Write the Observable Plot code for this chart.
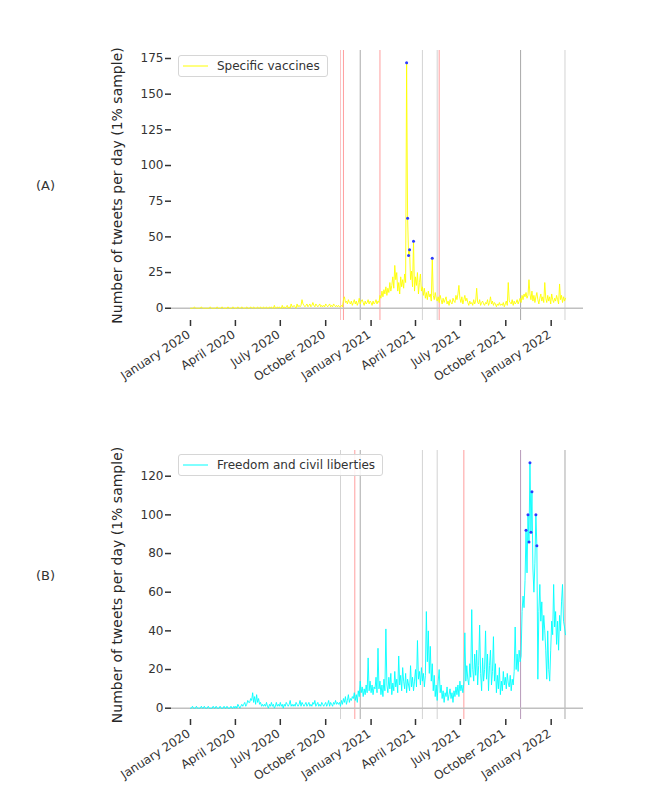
<!DOCTYPE html>
<html><head><meta charset="utf-8">
<script src="https://cdn.jsdelivr.net/npm/d3@7"></script>
<script src="https://cdn.jsdelivr.net/npm/@observablehq/plot@0.6"></script>
<style>
body{margin:0;background:#fff;font-family:"DejaVu Sans",sans-serif;}
#wrap{position:relative;width:666px;height:799px;overflow:hidden;background:#fff;}
.panel{position:absolute;left:0;}
.plabel{position:absolute;left:36px;font-size:13px;color:#333;line-height:16px;}
.legend{position:absolute;left:178px;height:22px;border:1px solid #d6d6d6;border-radius:3px;background:rgba(255,255,255,0.85);font-size:12px;color:#333;display:flex;align-items:center;box-sizing:border-box;padding-right:7px;}
.legend svg{margin-left:4px;margin-right:9px;}
</style></head><body><div id="wrap"></div>
<script>
// ---- shared ----
const seriesStart = "2020-01-01";   // first day of both daily series
const stepDays = 2;                 // values read every 2 days
const xDomain = ["2019-11-23T12:00Z", "2022-03-07T12:00Z"];
const xTicks = ["2020-01-01","2020-04-01","2020-07-01","2020-10-01","2021-01-01","2021-04-01","2021-07-01","2021-10-01","2022-01-01"];
const yLabel = "Number of tweets per day (1% sample)";

// ---- panel A : Specific vaccines ----
const vaccinesValues = [
 0,0,0,0,1,0,0,0,0,0,0,1,0,0,0,
 0,0,0,0,0,1,0,0,0,0,0,0,1,0,0,
 0,0,1,0,0,0,0,0,1,0,0,0,0,1,0,
 0,0,0,1,0,0,0,1,0,0,0,0,1,0,0,
 0,1,0,0,1,0,0,0,1,0,0,1,0,0,1,
 0,0,1,0,0,1,0,1,0,0,2,0,0,1,0,
 1,0,0,2,0,1,0,1,2,0,1,0,3,1,1,
 2,1,0,3,1,2,1,2,6,3,2,1,2,3,1,
 2,3,1,2,4,2,1,3,2,1,2,3,1,2,1,
 2,1,3,2,1,2,3,1,2,1,3,2,1,2,1,
 2,1,1,2,1,6,8,4,5,3,6,4,3,5,2,
 4,6,3,5,2,4,7,3,5,6,4,2,5,3,4,
 6,3,5,4,2,5,3,4,6,3,5,4,9,7,12,
 8,13,10,15,9,14,11,18,12,16,22,14,30,20,25,
 12,18,10,22,15,20,14,24,18,172,63,37,41,20,26,
 15,47,12,22,16,25,10,18,24,12,15,9,14,7,11,
 6,12,8,10,5,35,9,6,11,7,5,8,4,9,6,
 3,7,4,6,8,3,5,2,6,4,3,7,5,4,9,
 6,10,16,7,4,8,3,6,9,5,7,4,2,5,3,
 4,2,6,3,5,14,4,3,6,2,4,5,3,2,4,
 3,6,2,4,8,3,5,2,4,3,1,3,2,4,2,
 3,2,4,1,3,5,2,18,5,4,3,6,2,5,3,
 4,6,3,5,7,4,9,6,10,8,11,7,9,20,10,
 6,12,5,9,4,8,11,6,3,7,10,5,8,4,18,
 7,4,9,5,8,3,10,6,4,7,5,9,6,3,17,
 6,9,4,8,5,7
];
const vaccinesDotDates = ["2021-03-14","2021-03-16","2021-03-18","2021-03-20","2021-03-28","2021-05-05"];
const vaccinesDotValues = [172, 63, 37, 41, 47, 35];
const vaccinesEventDates = ["2020-10-31","2020-11-06","2020-12-10","2021-01-19","2021-04-15","2021-05-15","2021-05-19","2021-10-31","2022-01-29"];
const vaccinesEventKinds = ["Rl","R","G","R","L","L","R","G","L"];
const vaccinesYTicks = [0,25,50,75,100,125,150,175];
const vaccinesYDomain = [-8.6, 180.6];

// ---- panel B : Freedom and civil liberties ----
const freedomValues = [
 0,0,1,0,0,0,1,0,0,0,0,1,0,0,1,
 0,0,0,1,0,0,0,0,1,0,0,1,0,0,0,
 1,0,0,0,1,0,0,1,0,0,0,1,0,0,1,
 0,1,0,2,1,0,1,2,1,2,3,1,2,4,3,
 3,5,4,8,3,6,2,7,3,5,2,3,1,2,1,
 2,1,3,1,0,2,1,3,1,2,0,1,3,1,2,
 1,3,1,2,0,2,1,3,2,1,2,4,1,2,1,
 2,1,3,2,1,2,4,1,3,2,1,2,3,1,2,
 3,1,2,1,3,2,4,1,2,3,1,2,1,3,2,
 1,2,3,1,2,4,1,3,2,1,3,2,4,2,3,
 2,3,1,4,2,5,3,6,2,4,7,3,5,4,6,
 5,8,4,7,3,9,6,14,8,11,6,10,7,12,8,
 26,9,14,8,12,7,11,10,16,8,31,10,14,7,12,
 6,15,9,41,12,8,16,10,18,7,13,9,19,11,15,
 8,27,12,17,9,21,14,10,18,8,15,12,9,22,11,
 16,9,14,20,11,35,15,19,12,21,14,18,11,17,50,
 24,40,18,32,14,23,9,17,6,12,4,14,20,8,12,
 5,9,3,8,6,11,4,7,10,5,8,3,9,6,11,
 7,12,6,14,9,12,8,13,39,14,22,15,12,23,16,
 51,20,14,28,17,30,12,22,43,18,9,26,14,20,40,
 15,28,9,22,30,12,19,37,14,23,8,17,10,21,7,
 14,9,19,12,16,10,18,13,11,17,9,15,12,19,42,
 20,28,19,30,24,27,50,58,52,66,92,70,100,86,127,
 91,112,72,60,75,100,84,15,50,64,45,55,35,48,40,
 30,15,40,20,14,30,45,38,64,42,50,33,45,30,48,
 40,55,64,45,42,38
];
const freedomDotDates = ["2021-11-11","2021-11-15","2021-11-17","2021-11-19","2021-11-21","2021-11-23","2021-12-01","2021-12-03"];
const freedomDotValues = [92, 100, 86, 127, 91, 112, 100, 84];
const freedomEventDates = ["2020-10-31","2020-11-29","2020-12-10","2021-04-15","2021-05-15","2021-07-08","2021-10-31","2022-01-29"];
const freedomEventKinds = ["L","R","G","L","L","R","P","G"];
const freedomYTicks = [0,20,40,60,80,100,120];
const freedomYDomain = [-5.85, 133.3];

// event kind -> line colour
const eventColor = {R: "#ff9e9e", Rl: "#fbc4c4", G: "#a9a9a9", L: "#d3d3d3", P: "#b79ab9"};
const fmtTick = d3.utcFormat("%B %Y");

function makePanel(o) {
  const start = new Date(seriesStart + "T00:00Z");
  const series = o.values.map((v, i) => ({date: d3.utcDay.offset(start, i * stepDays), value: v}));
  const dots = o.dotDates.map((d, i) => ({date: new Date(d + "T00:00Z"), value: o.dotValues[i]}));
  const events = o.eventDates.map((d, i) => ({date: new Date(d + "T00:00Z"), color: eventColor[o.eventKinds[i]]}));
  const ticks = xTicks.map(d => new Date(d + "T00:00Z"));
  return Plot.plot({
    width: 666, height: o.height,
    marginLeft: 171, marginRight: 83, marginTop: o.marginTop, marginBottom: 70,
    style: {fontFamily: "DejaVu Sans", fontSize: "12px", color: "#333", background: "transparent", overflow: "visible"},
    x: {type: "utc", domain: xDomain.map(d => new Date(d))},
    y: {domain: o.yDomain},
    marks: [
      Plot.ruleX(events, {x: "date", stroke: "color", strokeWidth: 1}),
      Plot.ruleY([0], {stroke: "#c0c0c0", strokeWidth: 1.5}),
      Plot.line(series, {x: "date", y: "value", stroke: o.color, strokeWidth: 0.9}),
      Plot.dot(dots, {x: "date", y: "value", r: 1.5, fill: "#2b3bff", stroke: "none"}),
      Plot.axisX({ticks, tickFormat: () => "", tickSize: 6, strokeWidth: 1.5, label: null}),
      Plot.text(ticks, {x: d => d, text: d => fmtTick(d), frameAnchor: "bottom", rotate: -33,
        textAnchor: "end", lineAnchor: "top", dx: -4, dy: 9, fontSize: 12, fill: "#333"}),
      Plot.axisY({ticks: o.yTicks, tickSize: 6, tickPadding: 2, strokeWidth: 1.5, label: null, fontSize: 12}),
      Plot.text([yLabel], {frameAnchor: "left", textAnchor: "middle", rotate: -90, dx: -54, fontSize: 14, fill: "#262626"})
    ]
  });
}

const wrap = document.getElementById("wrap");
function place(el, top) { el.classList.add("panel"); el.style.top = top + "px"; wrap.appendChild(el); }

place(makePanel({values: vaccinesValues, dotDates: vaccinesDotDates, dotValues: vaccinesDotValues,
  eventDates: vaccinesEventDates, eventKinds: vaccinesEventKinds, yDomain: vaccinesYDomain, yTicks: vaccinesYTicks,
  color: "#ffff00", height: 390, marginTop: 50}), 0);
place(makePanel({values: freedomValues, dotDates: freedomDotDates, dotValues: freedomDotValues,
  eventDates: freedomEventDates, eventKinds: freedomEventKinds, yDomain: freedomYDomain, yTicks: freedomYTicks,
  color: "#00ffff", height: 399, marginTop: 60}), 390);

function legend(text, color, top) {
  const d = document.createElement("div");
  d.className = "legend"; d.style.top = top + "px";
  d.innerHTML = `<svg width="25" height="6"><line x1="0" x2="25" y1="3" y2="3" stroke="${color}" stroke-width="1"/></svg><span>${text}</span>`;
  wrap.appendChild(d);
}
legend("Specific vaccines", "#ffff00", 55);
legend("Freedom and civil liberties", "#00ffff", 454);

function panelLabel(text, top) {
  const d = document.createElement("div");
  d.className = "plabel"; d.style.top = top + "px"; d.textContent = text;
  wrap.appendChild(d);
}
panelLabel("(A)", 178);
panelLabel("(B)", 568);
</script>
</body></html>
